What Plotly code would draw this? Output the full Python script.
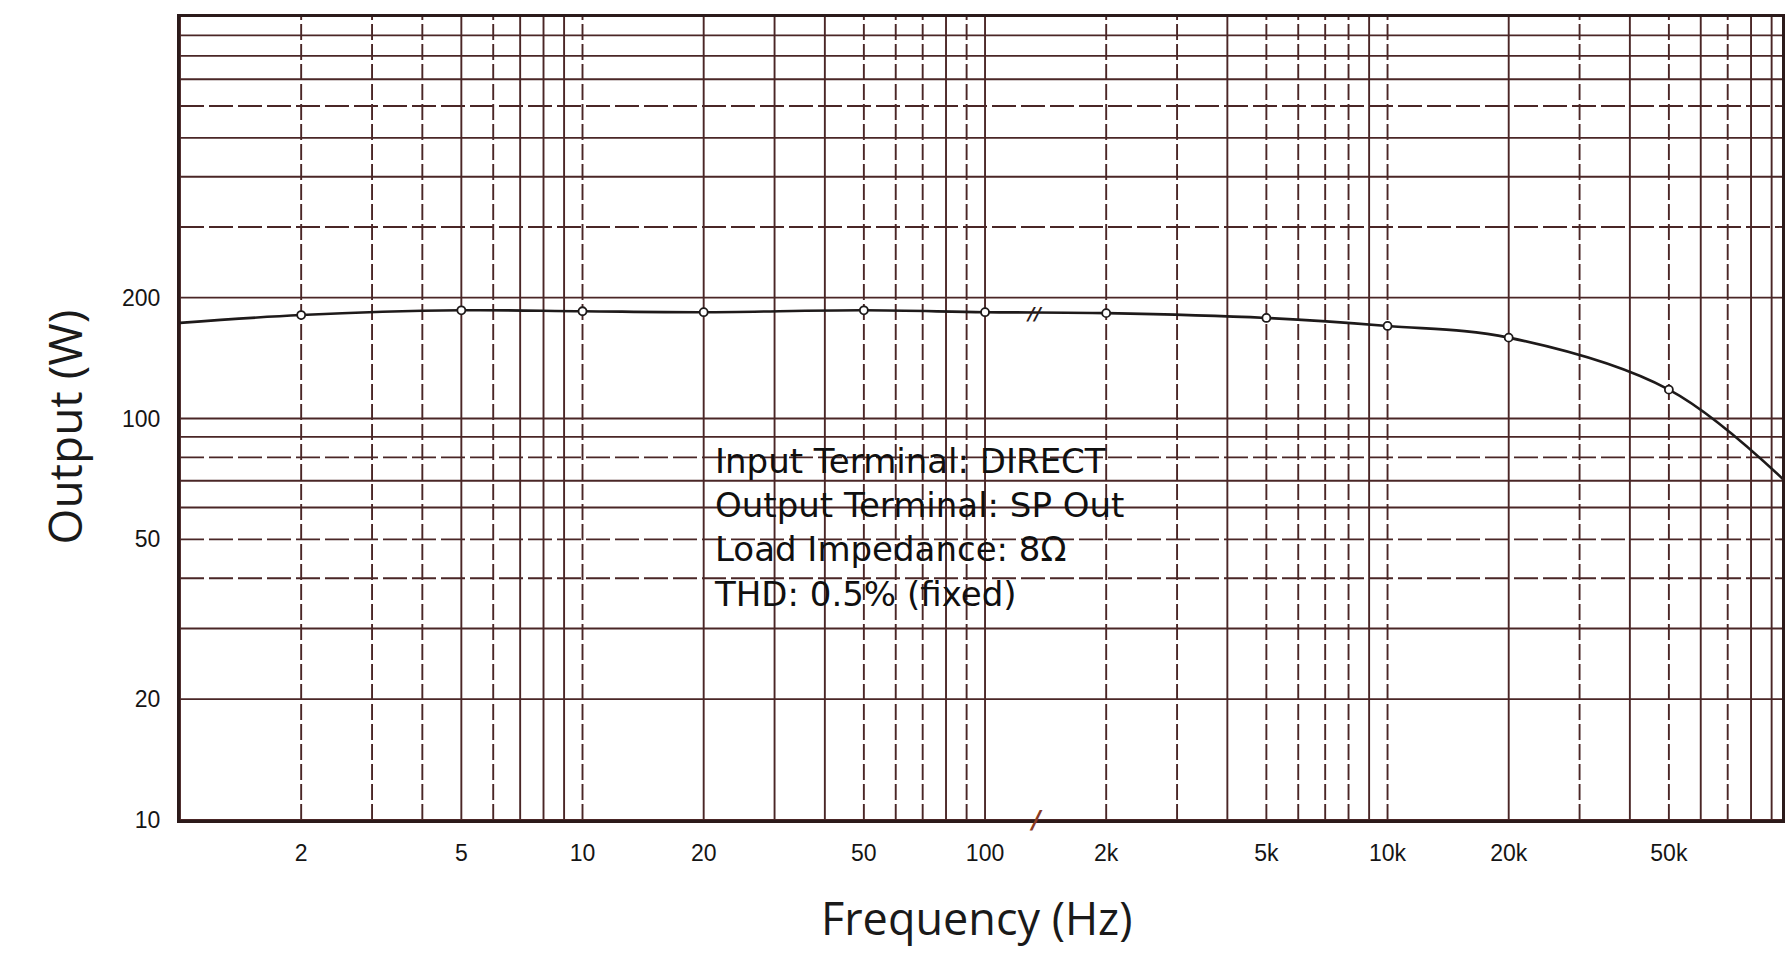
import plotly.graph_objects as go
import numpy as np

# ---------------- data ----------------
freq_hz = [2, 5, 10, 20, 50, 100, 2000, 5000, 10000, 20000, 50000]
output_w = [181, 186, 185, 184, 186, 184, 183, 178, 170, 159, 118]

curve_freq_hz = [1, 2, 5, 10, 20, 50, 100, 2000, 5000, 10000, 20000, 50000, 100000]
curve_output_w = [173, 181, 186, 185, 184, 186, 184, 183, 178, 170, 159, 118, 68]

x_tick_hz = [2, 5, 10, 20, 50, 100, 2000, 5000, 10000, 20000, 50000]
x_tick_text = ["2", "5", "10", "20", "50", "100", "2k", "5k", "10k", "20k", "50k"]
y_tick_vals = [10, 20, 50, 100, 200]
y_tick_text = ["10", "20", "50", "100", "200"]

notes = ["Input Terminal: DIRECT", "Output Terminal: SP Out",
         "Load Impedance: 8Ω", "THD: 0.5% (fixed)"]

x_title = "Frequency (Hz)"
y_title = "Output (W)"


# broken axis: 1k is drawn where 100 sits, so everything >= 1k is shifted one decade left
def axis_pos(f):
    return f if f <= 100 else f / 10.0


GRID = "#4a2626"
FRAME = "#2b1a1a"

fig = go.Figure()

# ---------------- grid (log grid, 1 .. 10^4 on the axis) ----------------
dashed_v = {2, 3, 4, 6, 10, 50, 60, 70, 90, 200, 300, 500, 600, 700, 800, 1000, 3000, 5000, 7000}
xs_solid, ys_solid, xs_dash, ys_dash = [], [], [], []
for d in [1, 10, 100, 1000]:
    for m in range(1, 10):
        v = m * d
        if v in dashed_v:
            xs_dash += [v, v, None]
            ys_dash += [10, 1000, None]
        else:
            xs_solid += [v, v, None]
            ys_solid += [10, 1000, None]

dashed_h = {40, 50, 80, 300, 600}
hx_solid, hy_solid, hx_dash, hy_dash = [], [], [], []
for d in [10, 100]:
    for m in range(1, 10):
        v = m * d
        if v in dashed_h:
            hx_dash += [1, 20000, None]
            hy_dash += [v, v, None]
        else:
            hx_solid += [1, 20000, None]
            hy_solid += [v, v, None]

for xx, yy, dash in [(xs_solid, ys_solid, "solid"), (xs_dash, ys_dash, "16px,4px"),
                     (hx_solid, hy_solid, "solid"), (hx_dash, hy_dash, "24px,5px")]:
    fig.add_trace(go.Scatter(x=xx, y=yy, mode="lines", hoverinfo="skip",
                             line=dict(color=GRID, width=1.9, dash=dash),
                             showlegend=False))

# ---------------- curve and measured points ----------------
fig.add_trace(go.Scatter(
    x=[axis_pos(f) for f in curve_freq_hz], y=curve_output_w, mode="lines",
    line=dict(color="#1e1a1a", width=2.6, shape="spline", smoothing=1.0),
    showlegend=False, hoverinfo="skip"))
fig.add_trace(go.Scatter(
    x=[axis_pos(f) for f in freq_hz], y=output_w, mode="markers",
    marker=dict(symbol="circle", size=8, color="white",
                line=dict(color="#1e1a1a", width=1.8)),
    showlegend=False))

# ---------------- annotations ----------------
ann = []
ann.append(dict(x=np.log10(21.0), y=np.log10(89), xref="x", yref="y",
                text="<br>".join(notes), showarrow=False, xanchor="left", yanchor="top",
                align="left", font=dict(family="DejaVu Sans", size=34, color="#101010")))
# axis break marks
ann.append(dict(x=np.log10(133), y=np.log10(183), xref="x", yref="y", text="<b><i>//</i></b>",
                showarrow=False, font=dict(family="DejaVu Sans", size=18, color="#2a1a1a")))
ann.append(dict(x=np.log10(134), y=1.0, xref="x", yref="y", text="<b><i>/</i></b>",
                showarrow=False, font=dict(family="DejaVu Sans", size=24, color="#8a3a22")))
# axis titles
ann.append(dict(x=-0.0725, y=0.49, xref="paper", yref="paper", text=y_title, textangle=-90,
                xanchor="center", yanchor="middle",
                showarrow=False, font=dict(family="Open Sans", size=46, color="#1a1a1a")))
ann.append(dict(x=0.497, y=-0.122, xref="paper", yref="paper", text=x_title,
                xanchor="center", yanchor="middle",
                showarrow=False, font=dict(family="Open Sans", size=45, color="#1a1a1a")))

fig.update_layout(
    width=1785, height=953,
    margin=dict(l=180, r=0, t=17, b=133),
    paper_bgcolor="white", plot_bgcolor="white",
    annotations=ann,
    xaxis=dict(type="log", range=[0, 3.98], showgrid=False, zeroline=False,
               tickvals=[axis_pos(f) for f in x_tick_hz], ticktext=x_tick_text,
               ticks="", ticklabelstandoff=10,
               tickfont=dict(family="Liberation Sans", size=23, color="#151515"),
               showline=True, linecolor=FRAME, linewidth=3, mirror=True),
    yaxis=dict(type="log", range=[1, 3], showgrid=False, zeroline=False,
               tickvals=y_tick_vals, ticktext=y_tick_text,
               ticks="", ticklabelstandoff=12,
               tickfont=dict(family="Liberation Sans", size=23, color="#151515"),
               showline=True, linecolor=FRAME, linewidth=3, mirror=True),
)

fig.write_html("out.html")
